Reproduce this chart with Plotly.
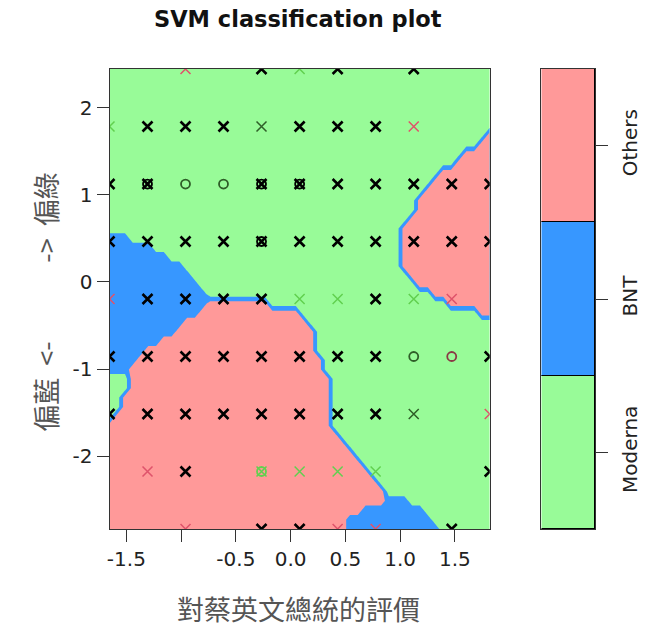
import numpy as np
import plotly.graph_objects as go

# ---------------- data ----------------
title_text = "SVM classification plot"
x_title = "對蔡英文總統的評價"
y_title = "偏藍  <-             ->  偏綠"

classes = ["Moderna", "BNT", "Others"]
class_fill = ["#98FB98", "#3797FF", "#FF9999"]
class_code = {"G": 1, "B": 2, "P": 3}

# observed (standardized) values of the two predictors
x_levels = [-1.654, -1.307, -0.960, -0.613, -0.266, 0.082, 0.429, 0.776, 1.124, 1.471, 1.818]
y_levels = [2.445, 1.785, 1.124, 0.464, -0.196, -0.856, -1.516, -2.177, -2.837]

x_ticks = [-1.5, -1.0, -0.5, 0.0, 0.5, 1.0, 1.5]
x_ticktext = ["-1.5", "", "-0.5", "0.0", "0.5", "1.0", "1.5"]
y_ticks = [-2, -1, 0, 1, 2]
y_ticktext = ["-2", "-1", "0", "1", "2"]

# predicted class on a 50 x 50 grid (rows from top to bottom), run-length encoded
region_rows = [
    "G50", "G50", "G50", "G50", "G50", "G50", "G50",
    "G49 P1", "G48 P2", "G46 P4", "G45 P5", "G43 P7", "G42 P8", "G41 P9",
    "G40 P10", "G40 P10", "G39 P11", "G38 P12",
    "B3 G35 P12", "B6 G32 P12", "B8 G30 P12", "B10 G28 P12",
    "B11 G28 P11", "B12 G28 P10", "B13 G29 P8",
    "B13 P8 G23 P6", "B12 P13 G23 P2",
    "B10 P16 G24", "B9 P18 G23", "B7 P20 G23", "B5 P22 G23",
    "B4 P24 G22", "B3 P25 G22",
    "G3 P26 G21", "G3 P26 G21", "G2 P27 G21", "G2 P27 G21", "G1 P28 G21",
    "P29 G21", "P30 G20", "P31 G19", "P32 G18", "P33 G17", "P34 G16",
    "P35 G15", "P36 G14", "P36 B3 G11", "P33 B8 G9", "P31 B11 G8", "P31 B12 G7",
]

# support vectors ("x"): grid column, grid row, colour code
sv_col = [2, 4, 5, 6, 8,
          0, 1, 2, 3, 4, 5, 6, 7, 8,
          0, 1, 4, 5, 6, 7, 8, 9, 10,
          0, 1, 2, 3, 4, 5, 6, 7, 8, 9, 10,
          0, 1, 2, 3, 4, 5, 6, 7, 8, 9,
          0, 1, 2, 3, 4, 5, 6, 7, 10,
          0, 1, 2, 3, 4, 5, 6, 7, 8, 10,
          1, 2, 4, 5, 6, 7, 10,
          2, 4, 5, 6, 7, 9]
sv_row = [0] * 5 + [1] * 9 + [2] * 9 + [3] * 11 + [4] * 10 + [5] * 9 + [6] * 10 + [7] * 7 + [8] * 6
sv_clr = list("rkgkk" + "gkkkdkkkr" + "kkkkkkkkk" + "kkkkkkkkkkk" + "rkkkkggkgr"
              + "kkkkkkkkk" + "kkkkkkkkdr" + "rkggggk" + "rkkrrk")

# other observations ("o")
o_col = [1, 2, 3, 4, 5, 4, 8, 9, 4]
o_row = [2, 2, 2, 2, 2, 3, 5, 5, 7]
o_clr = list("kddkkkdeg")

palette = {"k": "#000000", "r": "#DF536B", "g": "#61D04F", "d": "#2F5E28", "e": "#8A3A45"}

# ---------------- build ----------------
def decode(row):
    out = []
    for tok in row.split():
        out += [class_code[tok[0]]] * int(tok[1:])
    return out

z = np.array([decode(r) for r in region_rows][::-1], dtype=float)
gx = np.linspace(min(x_levels), max(x_levels), z.shape[1])
gy = np.linspace(min(y_levels), max(y_levels), z.shape[0])

W, H = 649, 629
def px(v): return v / W
def py(v): return 1 - v / H

fig = go.Figure()

cs = [[0, class_fill[0]], [1 / 3, class_fill[0]], [1 / 3, class_fill[1]],
      [2 / 3, class_fill[1]], [2 / 3, class_fill[2]], [1, class_fill[2]]]
fig.add_trace(go.Contour(
    x=gx, y=gy, z=z, colorscale=cs, showscale=False,
    contours=dict(start=1.5, end=2.5, size=1, coloring="fill"),
    line=dict(width=0, smoothing=0), hoverinfo="skip",
    xaxis="x", yaxis="y"))

sx = [x_levels[c] for c in sv_col]
sy = [y_levels[r] for r in sv_row]
col_idx = [i for i, c in enumerate(sv_clr) if c != "k"]
blk_idx = [i for i, c in enumerate(sv_clr) if c == "k"]

fig.add_trace(go.Scatter(
    x=[sx[i] for i in col_idx], y=[sy[i] for i in col_idx], mode="markers",
    marker=dict(symbol="x-thin", size=10,
                line=dict(width=1.5, color=[palette[sv_clr[i]] for i in col_idx])),
    hoverinfo="skip", xaxis="x", yaxis="y"))
fig.add_trace(go.Scatter(
    x=[x_levels[c] for c in o_col], y=[y_levels[r] for r in o_row], mode="markers",
    marker=dict(symbol="circle-open", size=9, color=[palette[c] for c in o_clr],
                line=dict(width=1.8, color=[palette[c] for c in o_clr])),
    hoverinfo="skip", xaxis="x", yaxis="y"))
fig.add_trace(go.Scatter(
    x=[sx[i] for i in blk_idx], y=[sy[i] for i in blk_idx], mode="markers",
    marker=dict(symbol="x-thin", size=10, line=dict(width=2.6, color="#000000")),
    hoverinfo="skip", xaxis="x", yaxis="y"))

# class key
for k in range(3):
    fig.add_trace(go.Bar(x=[0], y=[1], marker=dict(color=class_fill[k], line=dict(color="black", width=1)),
                         xaxis="x2", yaxis="y2", hoverinfo="skip", width=1))

tick_font = dict(family="DejaVu Sans", size=20, color="#222222")
fig.update_layout(
    width=W, height=H, margin=dict(l=0, r=0, t=0, b=0),
    paper_bgcolor="white", plot_bgcolor="white", showlegend=False,
    barmode="stack", bargap=0,
    font=dict(family="DejaVu Sans", color="#222222"),
    xaxis=dict(domain=[px(107), px(489)], range=[min(x_levels), max(x_levels)],
               tickvals=x_ticks, ticktext=x_ticktext, ticks="outside", ticklen=12,
               tickcolor="#333", showline=True, mirror=True, linecolor="#333", linewidth=1,
               showgrid=False, zeroline=False, tickfont=tick_font, anchor="y"),
    yaxis=dict(domain=[py(529), py(69)], range=[min(y_levels), max(y_levels)],
               tickvals=y_ticks, ticktext=y_ticktext, ticks="outside", ticklen=12,
               tickcolor="#333", showline=True, mirror=True, linecolor="#333", linewidth=1,
               showgrid=False, zeroline=False, tickfont=tick_font, anchor="x"),
    xaxis2=dict(domain=[px(541), px(595)], range=[-0.5, 0.5], showticklabels=False,
                ticks="", showline=True, mirror=True, linecolor="#333", linewidth=1,
                showgrid=False, zeroline=False, anchor="y2"),
    yaxis2=dict(domain=[py(529), py(69)], range=[0, 3], side="right",
                tickvals=[0.5, 1.5, 2.5], ticktext=classes, tickangle=-90,
                ticks="outside", ticklen=12, tickcolor="#333", ticklabelstandoff=5,
                showline=True, mirror=True, linecolor="#333", linewidth=1,
                showgrid=False, zeroline=False, tickfont=tick_font, anchor="x2"),
    annotations=[
        dict(text="<b>" + title_text + "</b>", x=px(296), y=py(19), xref="paper", yref="paper",
             showarrow=False, xanchor="center", yanchor="middle",
             font=dict(family="DejaVu Sans", size=22.5, color="#111111")),
        dict(text=x_title, x=px(297), y=py(608), xref="paper", yref="paper",
             showarrow=False, xanchor="center", yanchor="middle",
             font=dict(family="Noto Sans CJK TC", size=27, color="#555555")),
        dict(text=y_title, x=px(42), y=py(302), xref="paper", yref="paper", textangle=-90,
             showarrow=False, xanchor="center", yanchor="middle",
             font=dict(family="Noto Sans CJK TC", size=27, color="#555555")),
    ],
)

fig.write_html("out.html")
